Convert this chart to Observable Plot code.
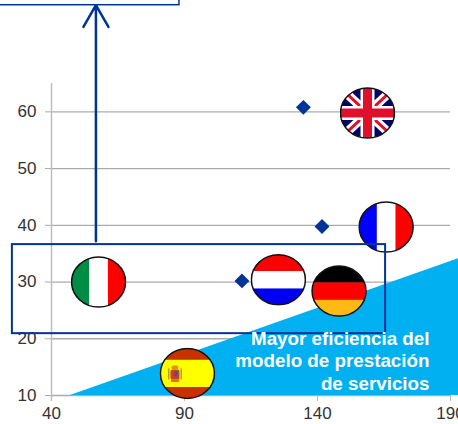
<!DOCTYPE html>
<html lang="es">
<head>
<meta charset="utf-8">
<style>
  html, body { margin: 0; padding: 0; background: #fff; overflow: hidden; }
</style>
<script src="https://cdn.jsdelivr.net/npm/d3@7"></script>
<script src="https://cdn.jsdelivr.net/npm/@observablehq/plot@0.6"></script>
</head>
<body>
<div id="chart"></div>
<script>
// Countries drawn as flags
const flagCountries = ["UK", "FR", "IT", "NL", "DE", "ES"];
const flagX = [158.8, 165.8, 57.7, 125.3, 148.1, 91.1];
const flagY = [59.8, 39.7, 30.0, 30.4, 28.4, 13.9];

// Unlabelled diamond markers
const diamondX = [134.7, 141.7, 111.6];
const diamondY = [60.8, 39.8, 30.2];

// Axis ticks
const xTicks = [40, 90, 140, 190];
const yTicks = [10, 20, 30, 40, 50, 60];

// Efficiency wedge
const wedgeX = [47.1, 193];
const wedgeY = [10, 34.1];
const wedgeLines = ["Mayor eficiencia del", "modelo de prestación", "de servicios"];
const wedgeLineY = [19.9, 16.0, 12.1];

const navy = "#003399";
const sky = "#00B0F0";

// Flag artwork: each flag is a small SVG clipped to an ellipse
const W = 56, H = 52;
const vBands = cs => cs.map((c, i) => `<rect x="${i * W / 3}" y="0" width="${W / 3 + .3}" height="${H}" fill="${c}"/>`).join("");
const hBands = (cs, ws = [1, 1, 1]) => {
  const t = d3.sum(ws);
  let y = 0;
  return cs.map((c, i) => {
    const h = H * ws[i] / t;
    const r = `<rect x="0" y="${y}" width="${W}" height="${h + .3}" fill="${c}"/>`;
    y += h;
    return r;
  }).join("");
};
const union = `
  <rect width="${W}" height="${H}" fill="#00006E"/>
  <path d="M0 0L${W} ${H}M${W} 0L0 ${H}" stroke="#fff" stroke-width="9"/>
  <path d="M0 0L${W} ${H}M${W} 0L0 ${H}" stroke="#E0102A" stroke-width="3"/>
  <path d="M${W / 2} 0V${H}M0 ${H / 2}H${W}" stroke="#fff" stroke-width="14"/>
  <path d="M${W / 2} 0V${H}M0 ${H / 2}H${W}" stroke="#E0102A" stroke-width="9"/>`;
const crest = `
  <rect x="11" y="22" width="9" height="10" rx="2" fill="#D5401A"/>
  <rect x="15" y="24" width="3" height="5" fill="#3A55A0"/>
  <rect x="12" y="18" width="7" height="4" rx="2" fill="#E2901A"/>
  <rect x="8.5" y="21" width="1.5" height="11" fill="#B59A3A"/>
  <rect x="21" y="21" width="1.5" height="11" fill="#B59A3A"/>
  <rect x="11.5" y="32" width="8" height="2.5" fill="#E26A1A"/>`;
const artwork = {
  UK: union,
  FR: vBands(["#0000FF", "#FFFFFF", "#FF0000"]),
  IT: vBands(["#008C45", "#FFFFFF", "#FF0000"]),
  NL: hBands(["#FF0000", "#FFFFFF", "#0000F0"]),
  DE: hBands(["#000000", "#FF0000", "#FFB915"]),
  ES: hBands(["#C83200", "#FFFF00", "#C83200"], [1, 2.2, 1]) + crest
};
const flagSrc = key => "data:image/svg+xml;utf8," + encodeURIComponent(
  `<svg xmlns="http://www.w3.org/2000/svg" viewBox="0 0 ${W} ${H}" width="${W}" height="${H}">
    <clipPath id="c"><ellipse cx="${W / 2}" cy="${H / 2}" rx="${W / 2 - 1}" ry="${H / 2 - 1}"/></clipPath>
    <g clip-path="url(#c)">${artwork[key]}</g>
    <ellipse cx="${W / 2}" cy="${H / 2}" rx="${W / 2 - 1}" ry="${H / 2 - 1}" fill="none" stroke="#111" stroke-width="1.5"/>
  </svg>`);

const flags = flagCountries.map((k, i) => ({k, x: flagX[i], y: flagY[i], src: flagSrc(k)}));
const diamonds = diamondX.map((x, i) => ({x, y: diamondY[i]}));
const wedge = wedgeX.map((x, i) => ({x, y2: wedgeY[i]}));
const wedgeText = wedgeLines.map((t, i) => ({t, y: wedgeLineY[i]}));

const grey = "#ABABAB";
const chart = Plot.plot({
  width: 458,
  height: 424,
  marginLeft: 51,
  marginRight: 8,
  marginTop: 83,
  marginBottom: 29,
  style: {background: "#fff", fontFamily: "'Liberation Sans', Arial, sans-serif", overflow: "hidden"},
  x: {type: "linear", domain: [40, 190]},
  y: {type: "linear", domain: [10, 65]},
  marks: [
    // Grid and axes
    Plot.ruleY(yTicks, {x1: 40, x2: 190, stroke: grey, strokeWidth: 1.3}),
    Plot.ruleX([40], {y1: 65, y2: 10, stroke: "#BDBDBD", strokeWidth: 1.5, insetBottom: -6}),
    Plot.axisY({
      ticks: yTicks, anchor: "left", tickSize: 6, tickPadding: 9, label: null,
      stroke: grey, fill: "#333", fontSize: 17
    }),
    Plot.axisX({
      ticks: xTicks, anchor: "bottom", tickSize: 6, tickPadding: 5, label: null,
      stroke: "#BDBDBD", fill: "#333", fontSize: 17
    }),

    // Efficiency wedge
    Plot.areaY(wedge, {x: "x", y1: () => 10, y2: "y2", fill: sky}),

    // Diamonds and flags
    Plot.dot(diamonds, {x: "x", y: "y", symbol: "diamond2", r: 6.7, fill: navy, stroke: "none"}),
    Plot.image(flags, {x: "x", y: "y", src: "src", width: W, height: H, preserveAspectRatio: "none"}),

    // Highlight boxes and the arrow between them
    Plot.rect([{x1: 25.3, x2: 165.6, y1: 20.9, y2: 36.6}], {
      x1: "x1", x2: "x2", y1: "y1", y2: "y2", fill: "none", stroke: navy, strokeWidth: 2
    }),
    Plot.rect([{x1: 10, x2: 88.1, y1: 78.8, y2: 90}], {
      x1: "x1", x2: "x2", y1: "y1", y2: "y2", fill: "none", stroke: navy, strokeWidth: 1.5
    }),
    Plot.arrow([{x: 56.7, y1: 37.2, y2: 78.8}], {
      x1: "x", x2: "x", y1: "y1", y2: "y2", stroke: navy, strokeWidth: 2.5,
      bend: 0, headLength: 15, headAngle: 60
    }),

    // Wedge caption
    Plot.text(wedgeText, {
      x: () => 182.1, y: "y", text: "t", textAnchor: "end", fill: "#fff",
      fontSize: 18.8, fontWeight: "bold"
    })
  ]
});
document.getElementById("chart").append(chart);
</script>
</body>
</html>
